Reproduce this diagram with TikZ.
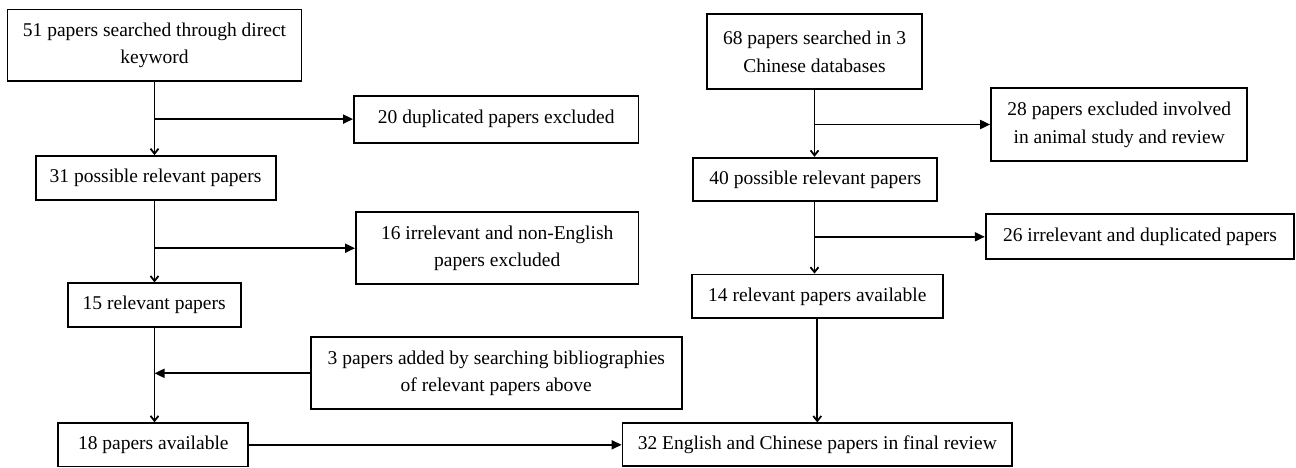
\documentclass[tikz,border=0pt]{standalone}
\usepackage{fontspec}
\setmainfont{Liberation Serif}
\usetikzlibrary{arrows.meta}
\begin{document}
\begin{tikzpicture}[x=1pt,y=-1pt,
  box/.style={draw, line width=1.8pt, fill=white, inner sep=0pt, align=center,
    font=\fontsize{19.5}{27.7}\selectfont},
  flow/.style={line width=1.8pt, -{Straight Barb[length=5pt,width=8pt]}},
  side/.style={line width=1.8pt, -{Triangle[length=10pt,width=9pt]}}]
\useasboundingbox[fill=white] (0,0) rectangle (1296,467);
% left column
\node[box, minimum width=294pt, minimum height=71.5pt] (A) at (154.5,45.25) {51 papers searched through direct\\keyword};
\node[box, minimum width=284.5pt, minimum height=47pt] (B) at (496.2,119.1) {20 duplicated papers excluded};
\node[box, minimum width=240pt, minimum height=44pt] (C) at (155.6,178) {31 possible relevant papers};
\node[box, minimum width=282.5pt, minimum height=71.7pt] (D) at (497.2,248.2) {16 irrelevant and non-English\\papers excluded};
\node[box, minimum width=173pt, minimum height=43.4pt] (E) at (154.2,305) {15 relevant papers};
\node[box, minimum width=370.7pt, minimum height=72pt] (F) at (496.3,373.3) {3 papers added by searching bibliographies\\of relevant papers above};
\node[box, minimum width=190pt, minimum height=43.2pt] (G) at (153.3,444.8) {18 papers available};
\node[box, minimum width=389.5pt, minimum height=43pt] (H) at (817.3,444.8) {32 English and Chinese papers in final review};
% right column
\node[box, minimum width=214.4pt, minimum height=74.4pt] (R1) at (814.5,51.5) {68 papers searched in 3\\Chinese databases};
\node[box, minimum width=256.3pt, minimum height=72.4pt] (R2) at (1119.2,124.5) {28 papers excluded involved\\in animal study and review};
\node[box, minimum width=244pt, minimum height=43.6pt] (R3) at (815.3,179.5) {40 possible relevant papers};
\node[box, minimum width=308.6pt, minimum height=45pt] (R4) at (1140,236.8) {26 irrelevant and duplicated papers};
\node[box, minimum width=250.7pt, minimum height=43.8pt] (R5) at (817.3,296.4) {14 relevant papers available};
% connectors left
\draw[flow] (A.south) -- (A.south |- C.north);
\draw[side] (A.south |- B.west) -- (B.west);
\draw[flow] (A.south |- C.south) -- (A.south |- E.north);
\draw[side] (A.south |- D.west) -- (D.west);
\draw[flow] (A.south |- E.south) -- (A.south |- G.north);
\draw[side] (F.west) -- (A.south |- F.west);
\draw[side] (G.east) -- (H.west);
% connectors right
\draw[flow] (R1.south) -- (R1.south |- R3.north);
\draw[side] (R1.south |- R2.west) -- (R2.west);
\draw[flow] (R1.south |- R3.south) -- (R1.south |- R5.north);
\draw[side] (R1.south |- R4.west) -- (R4.west);
\draw[flow] (R5.south) -- (R5.south |- H.north);
\end{tikzpicture}
\end{document}
